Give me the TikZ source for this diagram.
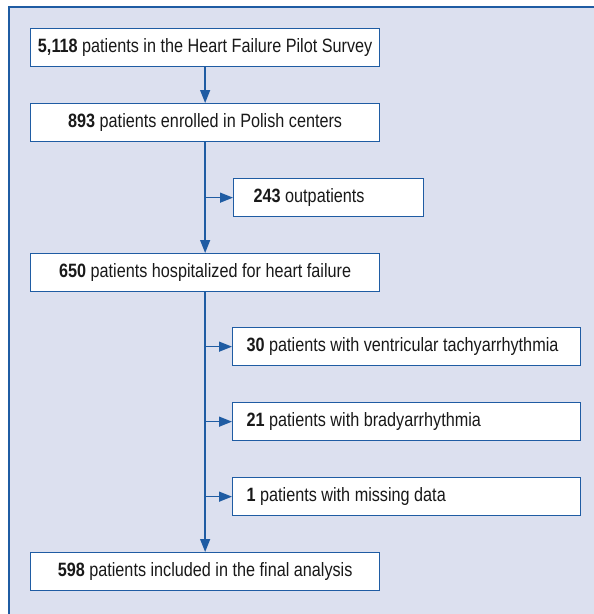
\documentclass[tikz,border=0pt]{standalone}
\usepackage{fontspec}
\setmainfont[FakeStretch=0.84]{Liberation Sans}
\usetikzlibrary{arrows.meta,positioning}

\definecolor{hfblue}{HTML}{1F5CA3}
\definecolor{hfpanel}{HTML}{DCE0EF}

\begin{document}
\begin{tikzpicture}[x=1pt,y=-1pt,
    mainbox/.style={draw=hfblue,fill=white,line width=1.3pt,anchor=north west,
        minimum width=349pt,minimum height=38pt,inner sep=0pt,
        font=\fontsize{19.3}{22}\selectfont\color{black!90}},
    sidebox/.style={draw=hfblue,fill=white,line width=1.3pt,anchor=north west,
        minimum height=38pt,inner ysep=0pt,
        font=\fontsize{19.3}{22}\selectfont\color{black!90}},
    arr/.style={draw=hfblue,line width=1.4pt,-{Triangle[length=13pt,width=10pt]}}]
    \useasboundingbox (0,0) rectangle (594,614);

    % Background panel
    \fill[hfpanel] (9,7) rectangle (594,614);
    \draw[hfblue,line width=1.3pt] (594,7) -- (9,7) -- (9,614);

    % Main column
    \node[mainbox] (survey) at (30,28) {\textbf{5,118} patients in the Heart Failure Pilot Survey};
    \node[mainbox] (enrolled) at (30,103) {\textbf{893} patients enrolled in Polish centers};
    \node[mainbox] (hosp) at (30,253) {\textbf{650} patients hospitalized for heart failure};
    \node[mainbox] (final) at (30,552) {\textbf{598} patients included in the final analysis};

    % Excluded
    \node[sidebox,inner xsep=20pt] (outp) at (233,178) {\makebox[150pt][l]{\textbf{243} outpatients}};
    \node[sidebox,inner xsep=14pt] (tachy) at (232,327) {\makebox[320pt][l]{\textbf{30} patients with ventricular tachyarrhythmia}};
    \node[sidebox,inner xsep=14pt] (brady) at (232,402) {\makebox[320pt][l]{\textbf{21} patients with bradyarrhythmia}};
    \node[sidebox,inner xsep=14pt] (missing) at (232,477) {\makebox[320pt][l]{\textbf{1} patients with missing data}};

    % Trunk
    \draw[arr] (survey) -- (enrolled);
    \draw[arr] (enrolled) -- (hosp);
    \draw[arr] (hosp) -- (final);

    % Branches
    \coordinate (b1) at (enrolled.south |- outp.west);
    \coordinate (b2) at (hosp.south |- tachy.west);
    \coordinate (b3) at (hosp.south |- brady.west);
    \coordinate (b4) at (hosp.south |- missing.west);
    \draw[arr] (b1) -- (outp);
    \draw[arr] (b2) -- (tachy);
    \draw[arr] (b3) -- (brady);
    \draw[arr] (b4) -- (missing);
\end{tikzpicture}
\end{document}
